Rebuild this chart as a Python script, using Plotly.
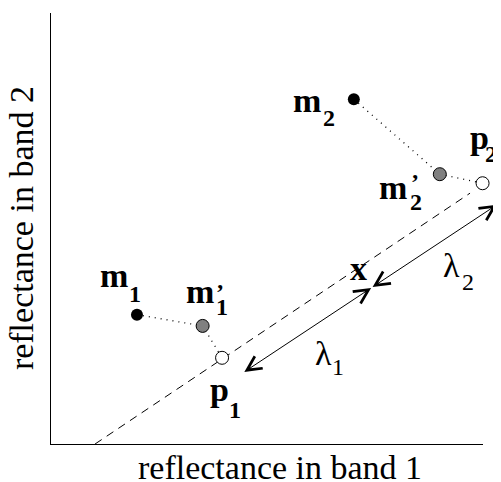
import plotly.graph_objects as go

# ---- data (axis units 0..100 on both axes) ----
m_x = [19.9, 70.1]          # m1, m2 (black)
m_y = [30.0, 80.0]
mp_x = [35.1, 90.0]         # m1', m2' (gray)
mp_y = [27.4, 62.6]
p_x = [39.6, 99.9]          # p1, p2 (open)
p_y = [20.0, 60.5]
dash_x = [10.2, 97.0]       # dashed line
dash_y = [0.0, 58.2]
x_point = [74.1, 36.2]      # point x
lam1_tail = [44.4, 16.5]
lam2_tip = [103.2, 55.5]

# labels: text, x, y (axis units), size, bold
label_text = ["m", "1", "m", "’", "1", "m", "2", "m", "’", "2",
              "p", "1", "p", "2", "x", "λ", "1", "λ", "2"]
label_x = [14.6, 19.4, 34.5, 39.1, 39.6, 59.3, 64.4, 79.2, 84.3, 84.5,
           39.1, 42.5, 99.2, 101.8, 71.1, 63.0, 66.4, 92.8, 96.5]
label_y = [39.1, 34.9, 35.4, 35.2, 31.8, 79.7, 75.7, 59.5, 60.7, 56.2,
           12.7, 7.9, 71.2, 67.3, 40.7, 21.0, 17.9, 41.4, 37.6]
label_size = [34, 24, 34, 24, 24, 34, 24, 34, 24, 24,
              34, 24, 34, 24, 34, 34, 24, 34, 24]
label_bold = [True] * 15 + [False] * 4

x_title = "reflectance in band 1"
y_title = "reflectance in band 2"

X_RANGE = [0, 100]
Y_RANGE = [0, 100]
FONT = "Liberation Serif, Times New Roman, serif"

fig = go.Figure()

fig.add_trace(go.Scatter(
    x=dash_x, y=dash_y, mode="lines",
    line=dict(color="black", width=1, dash="8px,6px"),
    hoverinfo="skip", showlegend=False))

dot_x = [m_x[0], mp_x[0], p_x[0], None, m_x[1], mp_x[1], p_x[1]]
dot_y = [m_y[0], mp_y[0], p_y[0], None, m_y[1], mp_y[1], p_y[1]]
fig.add_trace(go.Scatter(
    x=dot_x, y=dot_y, mode="lines",
    line=dict(color="black", width=1.3, dash="1px,5px"),
    hoverinfo="skip", showlegend=False))

fig.add_trace(go.Scatter(
    x=m_x, y=m_y, mode="markers", cliponaxis=False,
    marker=dict(size=12, color="black"), showlegend=False))
fig.add_trace(go.Scatter(
    x=mp_x, y=mp_y, mode="markers", cliponaxis=False,
    marker=dict(size=13, color="#808080", line=dict(color="black", width=1)),
    showlegend=False))
fig.add_trace(go.Scatter(
    x=p_x, y=p_y, mode="markers", cliponaxis=False,
    marker=dict(size=13, color="white", line=dict(color="black", width=1)),
    showlegend=False))

for tail, tip in [(lam1_tail, x_point), (x_point, lam2_tip)]:
    fig.add_annotation(
        x=tip[0], y=tip[1], ax=tail[0], ay=tail[1],
        xref="x", yref="y", axref="x", ayref="y",
        text="", showarrow=True, arrowside="end+start",
        arrowhead=5, startarrowhead=5, arrowsize=2.8, startarrowsize=2.8,
        arrowwidth=1, arrowcolor="black", standoff=0, startstandoff=0)

# labels placed in paper units (axis ranges map linearly onto the plot area),
# so labels just beyond the axis end are not hidden
for t, x, y, s, b in zip(label_text, label_x, label_y, label_size, label_bold):
    fig.add_annotation(
        x=(x - X_RANGE[0]) / (X_RANGE[1] - X_RANGE[0]),
        y=(y - Y_RANGE[0]) / (Y_RANGE[1] - Y_RANGE[0]),
        xref="paper", yref="paper", showarrow=False,
        text=f"<b>{t}</b>" if b else t,
        xanchor="center", yanchor="middle",
        font=dict(family=FONT, size=s, color="black"))

fig.add_annotation(
    x=0.529, y=-0.054, xref="paper", yref="paper", showarrow=False,
    text=x_title, xanchor="center", yanchor="middle",
    font=dict(family=FONT, size=34, color="black"))
fig.add_annotation(
    x=-0.068, y=0.5, xref="paper", yref="paper", showarrow=False,
    text=y_title, textangle=-90, xanchor="center", yanchor="middle",
    font=dict(family=FONT, size=34, color="black"))

fig.update_xaxes(range=X_RANGE, showline=True, linecolor="black", linewidth=1,
                 showgrid=False, zeroline=False, showticklabels=False, ticks="")
fig.update_yaxes(range=Y_RANGE, showline=True, linecolor="black", linewidth=1,
                 showgrid=False, zeroline=False, showticklabels=False, ticks="")

# page body has an 8px margin, so the figure is shifted by that amount
fig.update_layout(
    width=493, height=474,
    margin=dict(l=43, r=18, t=5, b=38),
    paper_bgcolor="white", plot_bgcolor="white",
    showlegend=False)

fig.write_html("out.html")
